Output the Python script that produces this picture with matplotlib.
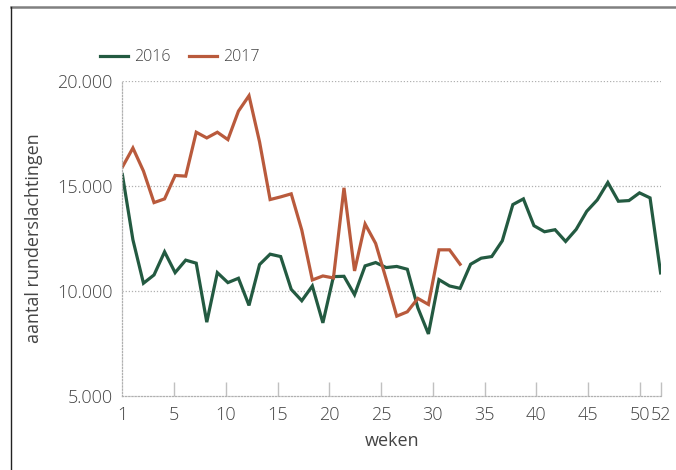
import matplotlib
matplotlib.use("Agg")
import matplotlib.pyplot as plt
from matplotlib.lines import Line2D

plt.rcParams['font.family'] = ['Open Sans', 'DejaVu Sans']
plt.rcParams['font.weight'] = 'light'

# weeknummers en aantallen runderslachtingen per week
weken = list(range(1, 53))
slacht_2016 = [15550, 12440, 10370, 10765, 11865, 10875, 11470, 11325, 8516, 10875,
               10400, 10607, 9314, 11260, 11754, 11640, 10080, 9537, 10240, 8484,
               10685, 10700, 9824, 11196, 11355, 11116, 11170, 11036, 9200, 7957,
               10541, 10240, 10127, 11275, 11563, 11640, 12390, 14115, 14386, 13110,
               12822, 12918, 12360, 12934, 13795, 14338, 15167, 14274, 14306, 14673,
               14434, 10861]
slacht_2017 = [15900, 16810, 15710, 14210, 14386, 15502, 15470, 17560, 17289, 17560,
               17209, 18565, 19298, 17100, 14354, 14482, 14626, 12902, 10526, 10717,
               10621, 14912, 10956, 13190, 12264, 10558, 8803, 9010, 9648, 9361,
               11961, 11961, 11275]

x_labels = [1, 5, 10, 15, 20, 25, 30, 35, 40, 45, 50, 52]
y_ticks = [5000, 10000, 15000, 20000]

groen = '#235a41'
oranje = '#b95a3c'
tekst = '#444444'

fig = plt.figure(figsize=(6.76, 4.70), dpi=100)
ax = fig.add_axes([0.181, 0.1574, 0.797, 0.6703])

ax.plot(weken, slacht_2016, color=groen, lw=2.3, label='2016', solid_joinstyle='miter')
ax.plot(weken[:len(slacht_2017)], slacht_2017, color=oranje, lw=2.3, label='2017', solid_joinstyle='miter')

ax.set_xlim(1, 52.05)
ax.set_ylim(5000, 20000)

# de as-labels staan op een schaal van 0..52 over dezelfde breedte
pos = [1 + (0 if w == 1 else w) * 51 / 52 for w in x_labels]
ax.set_xticks(pos)
ax.set_xticklabels([str(w) for w in x_labels])
ax.set_yticks(y_ticks)
ax.set_yticklabels([f'{v:,}'.replace(',', '.') for v in y_ticks])

ax.tick_params(axis='x', direction='in', length=10, width=1, color='#c0c0c0',
               pad=7, labelsize=13, labelcolor=tekst)
ax.tick_params(axis='y', length=0, pad=7, labelsize=13, labelcolor=tekst)
ax.xaxis.get_major_ticks()[0].tick1line.set_visible(False)

for y in y_ticks[1:]:
    ax.axhline(y, color='#b0b0b0', lw=0.9, ls=(0, (1, 1.5)), zorder=0)

for s in ['top', 'right']:
    ax.spines[s].set_visible(False)
for s in ['left', 'bottom']:
    ax.spines[s].set_color('#b0b0b0')
    ax.spines[s].set_linewidth(0.9)
    ax.spines[s].set_linestyle((0, (1, 1.5)))

ax.set_xlabel('weken', fontsize=13, color=tekst, labelpad=6)
ax.set_ylabel('aantal runderslachtingen', fontsize=13, color=tekst, labelpad=10)

ax.legend(loc='lower left', bbox_to_anchor=(-0.041, 1.05), ncol=2, frameon=False,
          fontsize=11.5, handlelength=1.75, handletextpad=0.35, columnspacing=1.2,
          borderpad=0, borderaxespad=0, labelcolor=tekst)

# kader
fig.add_artist(Line2D([0.016, 1], [0.985, 0.985], color='#808080', lw=1.8))
fig.add_artist(Line2D([0.017, 0.017], [0, 0.985], color='#222222', lw=1.0))

fig.savefig('out.png', dpi=100)
